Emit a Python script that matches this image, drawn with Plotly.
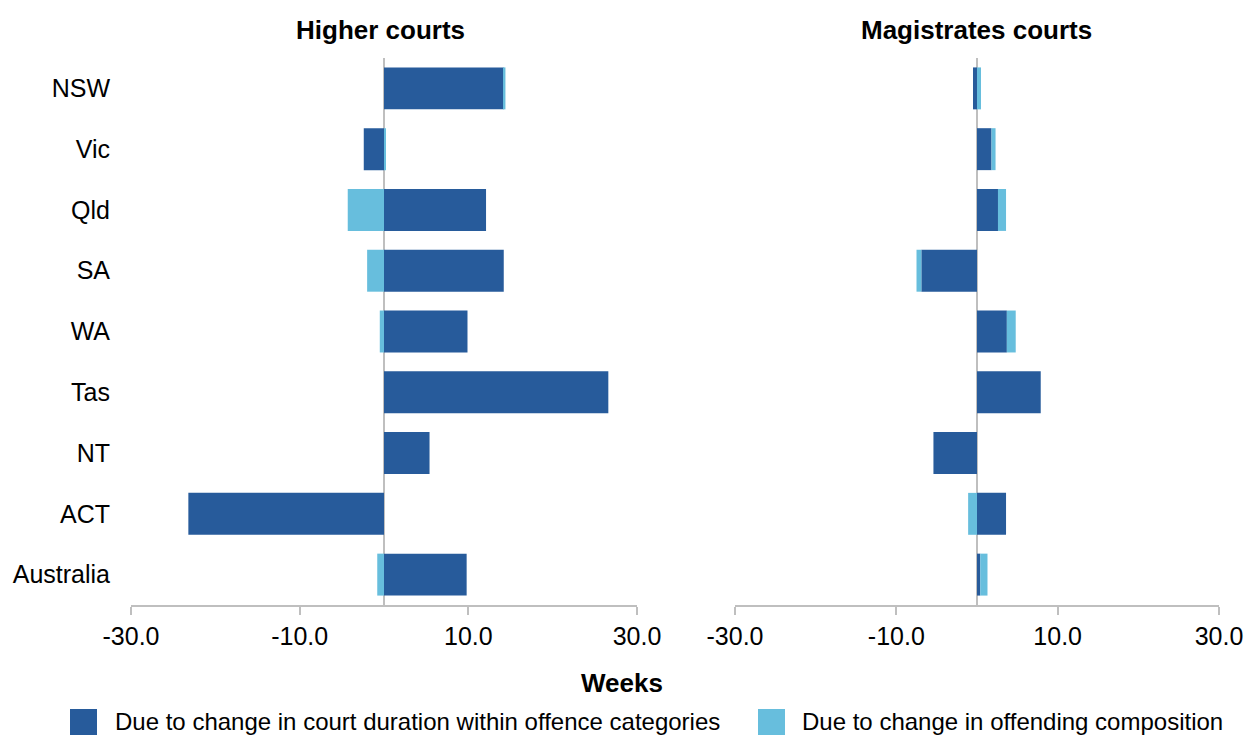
import plotly.graph_objects as go

states = ["NSW", "Vic", "Qld", "SA", "WA", "Tas", "NT", "ACT", "Australia"]
higher_duration = [14.2, -2.4, 12.1, 14.2, 9.9, 26.6, 5.4, -23.2, 9.8]
higher_composition = [0.2, 0.2, -4.3, -2.0, -0.5, 0.0, 0.0, 0.0, -0.8]
mag_duration = [-0.5, 1.8, 2.6, -6.9, 3.7, 7.9, -5.4, 3.6, 0.4]
mag_composition = [0.5, 0.5, 1.0, -0.6, 1.1, 0.0, 0.0, -1.1, 0.9]

series_names = ["Due to change in court duration within offence categories",
                "Due to change in offending composition"]
tick_vals = [-30, -10, 10, 30]
tick_text = ["-30.0", "-10.0", "10.0", "30.0"]

DARK = "#275B9B"
LIGHT = "#67BEDD"
GRAY = "#BFBFBF"
FONT = "Liberation Sans, Arial, sans-serif"

# page body has an 8px margin: the figure is drawn 8px in from the top-left
OFF = 8
W, H = 1254 - OFF, 736 - OFF
# plot area in screenshot pixels: x 131..1219, y 58..605
ML, MR, MT, MB = 131 - OFF, 1254 - 1219, 58 - OFF, 736 - 605
PW, PH = W - ML - MR, H - MT - MB

def xp(px):
    return (px - 131) / PW

def yp(py):
    return (605 - py) / PH

fig = go.Figure()
for vals, color, name, xa, ya in [
    (higher_duration, DARK, series_names[0], "x", "y"),
    (higher_composition, LIGHT, series_names[1], "x", "y"),
    (mag_duration, DARK, series_names[0], "x2", "y2"),
    (mag_composition, LIGHT, series_names[1], "x2", "y2"),
]:
    fig.add_trace(go.Bar(
        x=vals, y=states, orientation="h", name=name,
        marker=dict(color=color, line=dict(width=0)),
        xaxis=xa, yaxis=ya, showlegend=False,
    ))

xcommon = dict(
    range=[-30, 30], tickvals=tick_vals, ticktext=tick_text,
    showgrid=False, zeroline=True, zerolinecolor=GRAY, zerolinewidth=2,
    showline=True, linecolor=GRAY, linewidth=1.5,
    ticks="outside", ticklen=8, tickcolor=GRAY, tickwidth=1.5,
    tickfont=dict(family=FONT, size=25, color="#000"),
    layer="above traces", fixedrange=True, automargin=False,
)
ycommon = dict(
    autorange="reversed", showgrid=False, zeroline=False, showline=False,
    ticks="", tickfont=dict(family=FONT, size=25, color="#000"), automargin=False,
)

fig.update_layout(
    width=W, height=H,
    margin=dict(l=ML, r=MR, t=MT, b=MB, autoexpand=False),
    paper_bgcolor="white", plot_bgcolor="white",
    barmode="relative", bargap=0.31,
    showlegend=False,
    xaxis=dict(domain=[0, xp(637)], anchor="y", **xcommon),
    xaxis2=dict(domain=[xp(735), 1], anchor="y2", **xcommon),
    yaxis=dict(anchor="x", ticklabelstandoff=20, **ycommon),
    yaxis2=dict(anchor="x2", showticklabels=False, **ycommon),
    font=dict(family=FONT, color="#000"),
)

annotations = [
    dict(text="<b>Higher courts</b>", x=xp(380), y=yp(30), font=dict(size=26)),
    dict(text="<b>Magistrates courts</b>", x=xp(976), y=yp(30), font=dict(size=26)),
    dict(text="<b>Weeks</b>", x=xp(622), y=yp(683), font=dict(size=26)),
]
for a in annotations:
    a.update(xref="paper", yref="paper", showarrow=False, xanchor="center", yanchor="middle")
    a["font"].update(family=FONT, color="#000")

# legend drawn manually
legend_items = [(70, 113, DARK, series_names[0]), (758, 800, LIGHT, series_names[1])]
shapes = []
for sx, tx, color, name in legend_items:
    shapes.append(dict(type="rect", xref="paper", yref="paper",
                       x0=xp(sx), x1=xp(sx + 27), y0=yp(735), y1=yp(709),
                       fillcolor=color, line=dict(width=0)))
    annotations.append(dict(text=name, xref="paper", yref="paper", x=xp(tx), y=yp(721),
                            xanchor="left", yanchor="middle", showarrow=False,
                            font=dict(family=FONT, size=24, color="#000")))

fig.update_layout(annotations=annotations, shapes=shapes)
fig.write_html("out.html")
